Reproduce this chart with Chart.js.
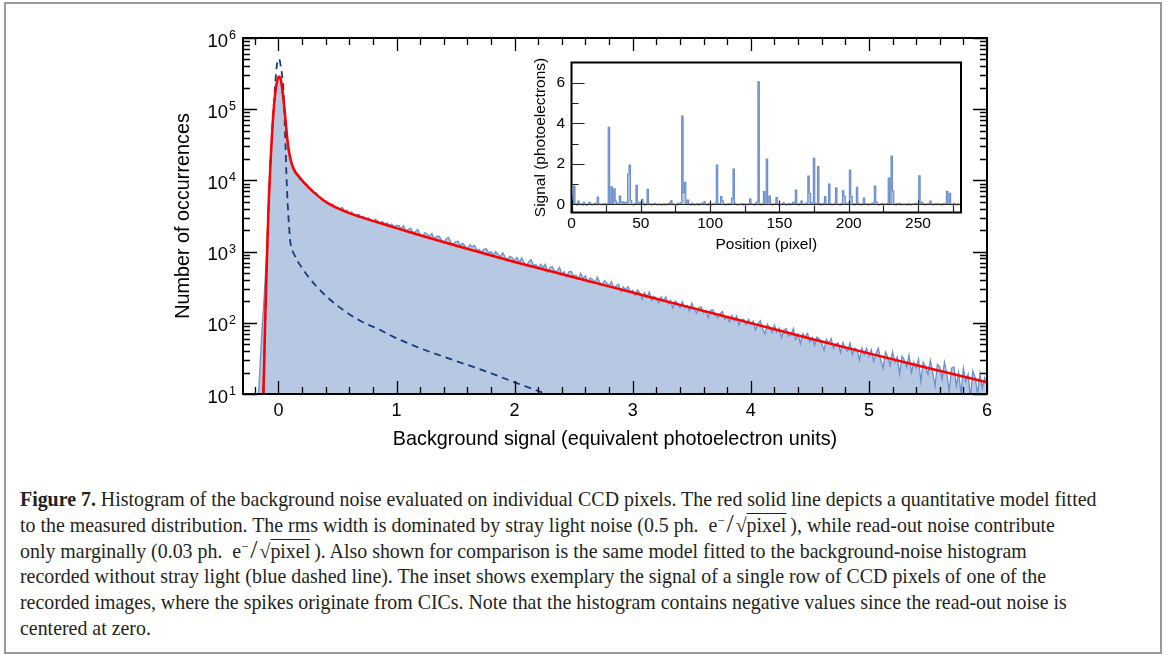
<!DOCTYPE html>
<html>
<head>
<meta charset="utf-8">
<script src="https://cdn.jsdelivr.net/npm/chart.js@4.4.1/dist/chart.umd.min.js"></script>
<style>
  body { margin: 0; width: 1165px; height: 655px; background: #fff; position: relative; overflow: hidden; }
  #frame { position: absolute; left: 4px; top: 2px; width: 1154px; height: 648px; border: 2px solid #9a9a9a; }
  #main { position: absolute; left: 0; top: 0; }
  #inset { position: absolute; left: 500px; top: 48px; }
  #caption { position: absolute; left: 20px; top: 487px; font-family: "Liberation Serif", "Times New Roman", serif; font-size: 19.9px; color: #231f20; }
  #caption div { height: 25.8px; line-height: 25.8px; white-space: nowrap; }
  #caption sup { font-size: 12.5px; line-height: 0; vertical-align: 7px; }
  #caption .sl { font-size: 26px; line-height: 0; margin: 0 2px; }
  #caption .ov { text-decoration: overline; text-decoration-thickness: 1px; }
</style>
</head>
<body>
<div id="frame"></div>
<canvas id="main" width="1165" height="470"></canvas>
<canvas id="inset" width="480" height="215"></canvas>
<div id="caption">
  <div><b>Figure 7.</b> Histogram of the background noise evaluated on individual CCD pixels. The red solid line depicts a quantitative model fitted</div>
  <div>to the measured distribution. The rms width is dominated by stray light noise (0.5 ph.&nbsp; e<sup>−</sup><span class="sl">/</span>√<span class="ov">pixel</span>&thinsp;), while read-out noise contribute</div>
  <div>only marginally (0.03 ph.&nbsp; e<sup>−</sup><span class="sl">/</span>√<span class="ov">pixel</span>&thinsp;). Also shown for comparison is the same model fitted to the background-noise histogram</div>
  <div>recorded without stray light (blue dashed line). The inset shows exemplary the signal of a single row of CCD pixels of one of the</div>
  <div>recorded images, where the spikes originate from CICs. Note that the histogram contains negative values since the read-out noise is</div>
  <div>centered at zero.</div>
</div>
<script>
// measured histogram: bin centres start at -0.2, step 0.02 (photoelectron units)
const histStart = -0.2;
const histStep = 0.02;
const histCounts = [
  1, 5, 18, 75, 240, 950, 6800, 31000, 102000, 208000,
  290000, 258000, 148000, 70000, 31500, 21500, 15500, 12600, 11900, 10200,
  9900, 8800, 8700, 7600, 7450, 6600, 6700, 5850, 5750, 5100,
  5200, 4650, 4500, 4650, 4100, 4150, 3990, 4190, 3740, 3800,
  3410, 3620, 3310, 3150, 3360, 3020, 3140, 2840, 2990, 2770,
  2630, 2840, 2690, 2500, 2660, 2420, 2540, 2320, 2430, 2230,
  2340, 2310, 2090, 2300, 1940, 2060, 2130, 1840, 1910, 2060,
  1740, 1640, 1850, 1750, 1640, 1800, 1500, 1630, 1640, 1460,
  1330, 1510, 1580, 1350, 1260, 1370, 1400, 1220, 1310, 1200,
  1070, 1250, 1170, 1220, 1040, 1080, 970, 1080, 1100, 960,
  1000, 890, 1000, 910, 850, 960, 830, 770, 860, 820,
  740, 823, 701, 820, 696, 633, 723, 770, 635, 660,
  579, 667, 597, 664, 516, 597, 613, 524, 534, 599,
  482, 524, 443, 518, 527, 450, 464, 415, 496, 420,
  454, 374, 427, 407, 368, 437, 369, 335, 389, 364,
  330, 377, 310, 329, 348, 275, 319, 291, 323, 271,
  285, 243, 289, 261, 213, 265, 228, 271, 206, 235,
  222, 190, 232, 201, 231, 185, 207, 162, 202, 187,
  163, 199, 163, 176, 147, 190, 156, 136, 164, 167,
  138, 148, 118, 150, 151, 127, 117, 135, 144, 112,
  121, 103, 127, 107, 125, 93, 110, 112, 95, 112,
  95, 106, 80, 96, 107, 82, 70, 96, 85, 73,
  93, 75, 84, 62, 79, 83, 65, 68, 83, 58,
  70, 51, 70, 63, 71, 54, 62, 48, 63, 60,
  51, 41, 59, 51, 60, 44, 50, 52, 38, 53,
  43, 40, 52, 36, 44, 42, 30, 44, 36, 44,
  34, 42, 29, 37, 44, 30, 23, 39, 33, 25,
  39, 28, 33, 19, 34, 30, 24, 35, 20, 28,
  23, 31, 15, 28, 24, 19, 30, 20, 13, 26,
  24, 16, 28, 19, 11, 23, 24, 13, 20, 10,
  23, 15, 19, 9, 21, 17, 10, 19, 12, 17,
  13
];

// red fitted model
const fitX = [-0.13, -0.12, -0.11, -0.10, -0.09, -0.08, -0.07, -0.06, -0.05, -0.04, -0.03, -0.02, -0.01, 0.0, 0.01, 0.02, 0.03, 0.04, 0.05, 0.06, 0.07, 0.08, 0.09, 0.10, 0.12, 0.14, 0.17, 0.20, 0.25, 0.30, 0.40, 0.50, 0.60, 0.70, 0.80, 0.90, 1.00, 1.25, 1.50, 2.00, 2.50, 3.00, 3.50, 4.00, 4.50, 5.00, 5.50, 6.00];
const fitY = [7, 30, 150, 550, 2000, 6000, 14000, 30000, 58000, 100000, 150000, 205000, 255000, 283000, 285000, 262000, 205000, 150000, 105000, 70000, 47000, 32000, 25000, 20500, 15800, 13400, 11500, 10000, 8150, 6800, 5010, 4070, 3470, 3055, 2700, 2400, 2140, 1600, 1216, 716, 437, 266, 162, 99, 60.3, 37.2, 23.2, 14.6];

// blue dashed model (no stray light)
const cleanX = [-0.13, -0.12, -0.11, -0.10, -0.09, -0.08, -0.07, -0.06, -0.05, -0.04, -0.03, -0.02, -0.01, 0.0, 0.01, 0.02, 0.03, 0.04, 0.05, 0.06, 0.07, 0.08, 0.09, 0.10, 0.12, 0.14, 0.17, 0.20, 0.25, 0.325, 0.40, 0.55, 0.70, 0.85, 0.975, 1.20, 1.48, 1.75, 2.00, 2.27, 2.35];
const cleanY = [7, 30, 140, 550, 2000, 6000, 14000, 30000, 60000, 110000, 200000, 324000, 450000, 510000, 490000, 400000, 310000, 210000, 95000, 30000, 9500, 4200, 2300, 1400, 1020, 870, 700, 590, 450, 321, 240, 151, 105, 81, 63.5, 44, 30, 21, 14.6, 10, 9];

// inset: signal of one CCD row, pixel 0..280
const rowSignal = [
  0.41, 0.05, 0.9, 0.04, -0.02, 0.16, 0.03, 0.01, -0.03, 0.1, 0.02, -0.04, 0.01, 0.1, 0.03, -0.02, 0.02, 0.05, -0.01, 0.36,
  0.03, 0.01, -0.03, 0.02, 0.04, -0.02, 0.03, 3.8, 0.05, 0.87, 0.06, 0.77, 0.16, 0.02, 0.05, 0.41, 0.08, 0.13, 0.03, 0.1,
  0.06, 1.5, 1.94, 0.18, 0.02, -0.03, 0.04, 0.94, 0.03, 0.1, 0.02, 0.25, 0.05, -0.02, 0.03, 0.74, 0.04, 0.01, -0.03, 0.02,
  0.05, 0.01, -0.02, 0.03, 0.02, -0.04, 0.01, 0.03, -0.02, 0.02, 0.04, 0.06, 0.18, 0.03, -0.01, 0.02, -0.03, 0.05, 0.01, 0.08,
  4.36, 0.58, 1.09, 0.04, 0.21, 0.02, -0.02, 0.05, 0.03, -0.03, 0.01, 0.04, -0.02, 0.02, 0.05, 0.03, 0.13, 0.01, -0.03, 0.04,
  0.02, -0.02, 0.03, 0.01, 0.06, 1.94, 0.04, 0.02, 0.38, 0.18, 0.03, -0.02, 0.02, 0.04, -0.01, 0.03, 0.3, 1.74, 0.05, 0.02,
  -0.03, 0.02, 0.01, 0.04, -0.02, 0.03, 0.02, -0.01, 0.04, 0.26, 0.03, 0.01, -0.02, 0.05, 0.13, 6.04, 0.04, -0.02, 0.03, 0.63,
  0.05, 2.24, 0.08, 0.41, 0.03, -0.02, 0.02, 0.04, 0.33, 0.02, -0.03, 0.01, 0.03, 0.08, 0.02, -0.02, 0.01, 0.04, -0.01, 0.03,
  0.1, 0.02, 0.71, 0.03, -0.02, 0.04, 0.16, 0.02, -0.01, 0.05, 0.06, 1.4, 0.54, 0.03, 0.08, 2.27, 0.05, 0.02, 1.86, 0.04,
  -0.02, 0.03, 0.05, 0.38, 0.02, 0.04, 1.0, 0.03, -0.02, 0.02, 0.05, 0.82, 0.03, 0.01, -0.03, 0.04, 0.67, 0.41, 0.05, 0.02,
  0.06, 1.69, 0.38, 0.03, -0.02, 0.04, 0.84, 0.05, 0.02, -0.03, 0.03, 0.31, 0.04, 0.01, -0.02, 0.03, 0.02, 0.05, 0.06, 0.9,
  0.13, 0.03, -0.02, 0.02, 0.04, -0.01, 0.03, 0.02, 0.05, 1.3, 0.04, 2.38, 0.66, 0.03, -0.02, 0.04, 0.02, 0.05, -0.03, 0.02,
  0.03, 0.01, -0.02, 0.04, 0.02, -0.03, 0.03, 0.01, 0.05, 0.02, 0.04, 1.41, 0.06, 0.1, 0.03, -0.02, 0.02, 0.04, 0.01, 0.16,
  0.03, -0.02, 0.02, 0.04, -0.01, 0.03, 0.02, -0.03, 0.04, 0.02, 0.05, 0.64, 0.04, 0.54, 0.02, -0.02, 0.05, 0.01, -0.02, 0.03,
  0.02
];

const SANS = '"Liberation Sans", Arial, Helvetica, sans-serif';
const FILL_BLUE = 'rgb(183, 200, 227)';
const LINE_BLUE = 'rgb(108, 143, 204)';

const histPoints = histCounts.map((c, i) => ({x: histStart + i * histStep, y: c}));
const fitPoints = fitX.map((x, i) => ({x: x, y: fitY[i]}));
const cleanPoints = cleanX.map((x, i) => ({x: x, y: cleanY[i]}));
const rowPoints = rowSignal.map((v, i) => ({x: i, y: v}));

// ticks, labels and box of the main plot
const mainAxes = {
  id: 'mainAxes',
  afterDraw(chart) {
    const {ctx, chartArea: a} = chart;
    const xs = chart.scales.x, ys = chart.scales.y;
    ctx.save();
    ctx.strokeStyle = '#000';
    ctx.lineWidth = 1.3;
    ctx.beginPath();
    for (let k = -1; k <= 30; k++) {
      const px = Math.round(xs.getPixelForValue(k / 5)) + 0.5;
      const len = k % 5 === 0 ? 13 : 7;
      ctx.moveTo(px, a.bottom); ctx.lineTo(px, a.bottom - len);
      ctx.moveTo(px, a.top); ctx.lineTo(px, a.top + len);
    }
    for (let e = 1; e <= 6; e++) {
      for (let m = 1; m <= 9; m++) {
        if (e === 6 && m > 1) break;
        const py = Math.round(ys.getPixelForValue(m * Math.pow(10, e))) + 0.5;
        const len = m === 1 ? 14 : 7;
        ctx.moveTo(a.left, py); ctx.lineTo(a.left + len, py);
        ctx.moveTo(a.right, py); ctx.lineTo(a.right - len, py);
      }
    }
    ctx.stroke();
    ctx.lineWidth = 2;
    ctx.strokeRect(a.left, a.top, a.width, a.height);

    ctx.fillStyle = '#000';
    ctx.font = '18px ' + SANS;
    ctx.textAlign = 'center';
    ctx.textBaseline = 'middle';
    for (let k = 0; k <= 6; k++) {
      ctx.fillText(String(k), xs.getPixelForValue(k), 411);
    }
    for (let e = 1; e <= 6; e++) {
      const py = ys.getPixelForValue(Math.pow(10, e));
      ctx.font = '18.5px ' + SANS;
      ctx.textAlign = 'right';
      ctx.fillText('10', 228, py + 3.5);
      ctx.font = '12.5px ' + SANS;
      ctx.textAlign = 'left';
      ctx.fillText(String(e), 229, py - 2.5);
    }
    ctx.font = '19.8px ' + SANS;
    ctx.textAlign = 'center';
    ctx.fillText('Background signal (equivalent photoelectron units)', (a.left + a.right) / 2, 440);
    ctx.translate(184, (a.top + a.bottom) / 2);
    ctx.rotate(-Math.PI / 2);
    ctx.fillText('Number of occurrences', 0, 0);
    ctx.restore();
  }
};

new Chart('main', {
  type: 'line',
  data: {
    datasets: [
      {
        label: 'fit',
        data: fitPoints,
        borderColor: 'rgb(255, 0, 0)',
        borderWidth: 2.5,
        cubicInterpolationMode: 'monotone',
        fill: false,
        clip: 0,
      },
      {
        label: 'without stray light',
        data: cleanPoints,
        borderColor: 'rgb(24, 58, 122)',
        borderWidth: 1.8,
        borderDash: [7, 5],
        cubicInterpolationMode: 'monotone',
        fill: false,
        clip: 0,
      },
      {
        label: 'histogram',
        data: histPoints,
        borderColor: LINE_BLUE,
        borderWidth: 1.3,
        backgroundColor: FILL_BLUE,
        fill: 'start',
        tension: 0,
        clip: 0,
      },
    ]
  },
  options: {
    responsive: false,
    animation: false,
    devicePixelRatio: 1,
    layout: {padding: {left: 243, top: 38, right: 178, bottom: 76}},
    elements: {point: {radius: 0}},
    plugins: {legend: {display: false}, tooltip: {enabled: false}},
    scales: {
      x: {type: 'linear', display: false, min: -0.3, max: 6},
      y: {type: 'logarithmic', display: false, min: 10, max: 1e6},
    }
  },
  plugins: [mainAxes]
});

// inset: white box, zero line, ticks and labels
const insetAxes = {
  id: 'insetAxes',
  beforeDraw(chart) {
    const {ctx, chartArea: a} = chart;
    ctx.save();
    ctx.fillStyle = '#fff';
    ctx.fillRect(a.left, a.top, a.width, a.height);
    ctx.restore();
  },
  afterDatasetsDraw(chart) {
    const {ctx, chartArea: a} = chart;
    const y0 = Math.round(chart.scales.y.getPixelForValue(0)) + 0.5;
    ctx.save();
    ctx.strokeStyle = '#2a2a2a';
    ctx.lineWidth = 1;
    ctx.beginPath();
    ctx.moveTo(a.left, y0); ctx.lineTo(a.right, y0);
    ctx.stroke();
    ctx.restore();
  },
  afterDraw(chart) {
    const {ctx, chartArea: a} = chart;
    const xs = chart.scales.x, ys = chart.scales.y;
    ctx.save();
    ctx.strokeStyle = '#222';
    ctx.lineWidth = 1.2;
    ctx.beginPath();
    for (let v = 0; v <= 275; v += 25) {
      const px = Math.round(xs.getPixelForValue(v)) + 0.5;
      const len = v % 50 === 0 ? 12 : 7;
      ctx.moveTo(px, a.bottom); ctx.lineTo(px, a.bottom - len);
    }
    for (let v = 0; v <= 6; v++) {
      const py = Math.round(ys.getPixelForValue(v)) + 0.5;
      const len = v % 2 === 0 ? 13 : 7;
      ctx.moveTo(a.left, py); ctx.lineTo(a.left + len, py);
    }
    ctx.stroke();
    ctx.strokeStyle = '#000';
    ctx.lineWidth = 2;
    ctx.strokeRect(a.left, a.top, a.width, a.height);

    ctx.fillStyle = '#000';
    ctx.font = '15.5px ' + SANS;
    ctx.textBaseline = 'middle';
    ctx.textAlign = 'center';
    for (let v = 0; v <= 250; v += 50) {
      ctx.fillText(String(v), xs.getPixelForValue(v), 176);
    }
    ctx.textAlign = 'right';
    for (let v = 0; v <= 6; v += 2) {
      ctx.fillText(String(v), 65, ys.getPixelForValue(v));
    }
    ctx.textAlign = 'center';
    ctx.fillText('Position (pixel)', (a.left + a.right) / 2, 197);
    ctx.translate(40.5, (a.top + a.bottom) / 2);
    ctx.rotate(-Math.PI / 2);
    ctx.fillText('Signal (photoelectrons)', 0, 0);
    ctx.restore();
  }
};

new Chart('inset', {
  type: 'line',
  data: {
    datasets: [{
      label: 'row signal',
      data: rowPoints,
      stepped: 'middle',
      borderColor: LINE_BLUE,
      borderWidth: 1.2,
      backgroundColor: FILL_BLUE,
      fill: 'origin',
      clip: 0,
    }]
  },
  options: {
    responsive: false,
    animation: false,
    devicePixelRatio: 1,
    layout: {padding: {left: 71.5, top: 14.5, right: 19, bottom: 50.5}},
    elements: {point: {radius: 0}},
    plugins: {legend: {display: false}, tooltip: {enabled: false}},
    scales: {
      x: {type: 'linear', display: false, min: 0, max: 281},
      y: {type: 'linear', display: false, min: -0.4, max: 7},
    }
  },
  plugins: [insetAxes]
});
</script>
</body>
</html>
